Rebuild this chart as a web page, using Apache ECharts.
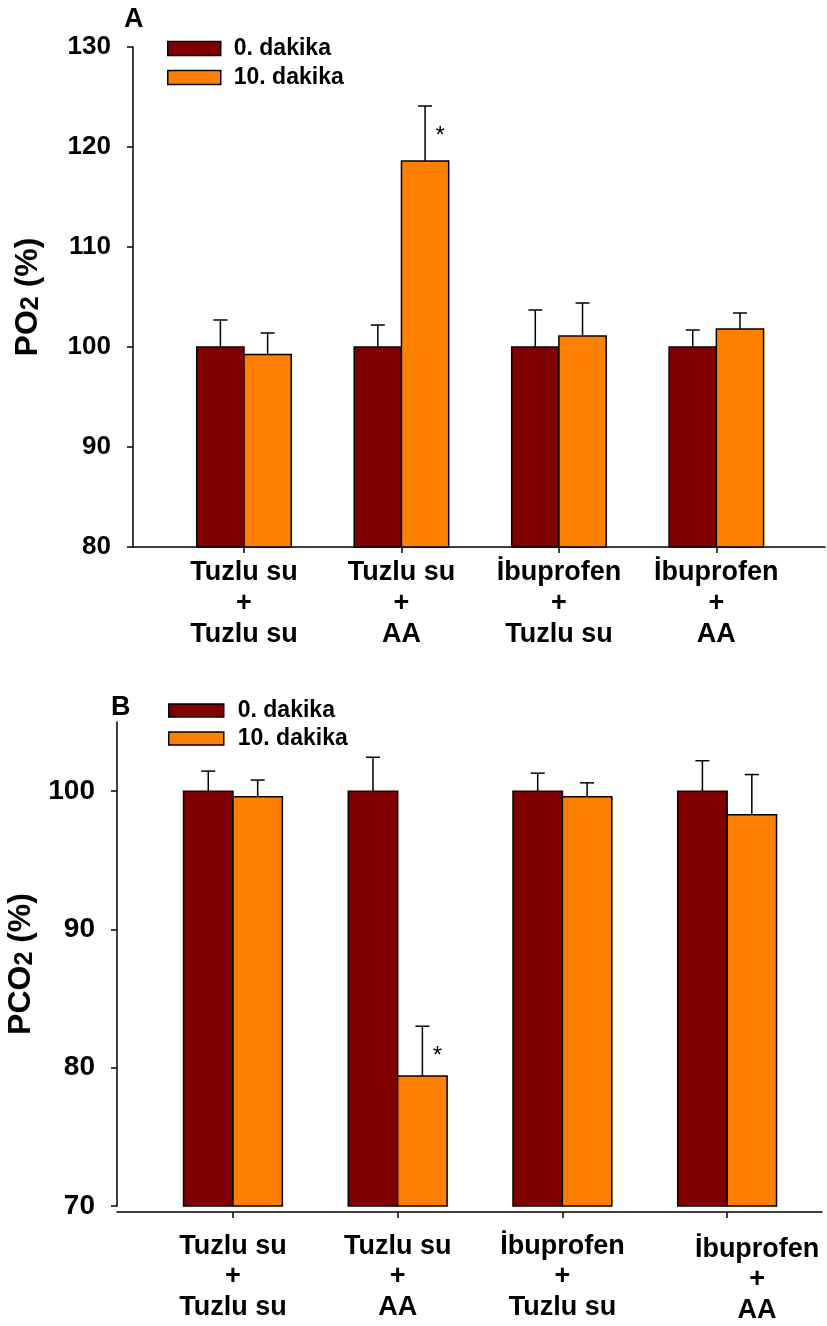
<!DOCTYPE html>
<html>
<head>
<meta charset="utf-8">
<script src="https://cdn.jsdelivr.net/npm/echarts@6/dist/echarts.min.js"></script>
<style>html,body{margin:0;padding:0;background:#fff}#c{width:827px;height:1326px}</style>
</head>
<body>
<div id="c"></div>
<script>
const categories = ['Tuzlu su\n+\nTuzlu su', 'Tuzlu su\n+\nAA', 'İbuprofen\n+\nTuzlu su', 'İbuprofen\n+\nAA'];
const seriesNames = ['0. dakika', '10. dakika'];
// Panel A: PO2 (%)
const po2_min0 = [100, 100, 100, 100];
const po2_min0_err = [2.7, 2.2, 3.7, 1.7];
const po2_min10 = [99.25, 118.6, 101.1, 101.8];
const po2_min10_err = [2.15, 5.5, 3.3, 1.6];
const po2_sig = ['', '*', '', ''];
const po2_ticks = [80, 90, 100, 110, 120, 130];
// Panel B: PCO2 (%)
const pco2_min0 = [100, 100, 100, 100];
const pco2_min0_err = [1.45, 2.45, 1.3, 2.2];
const pco2_min10 = [99.6, 79.4, 99.6, 98.3];
const pco2_min10_err = [1.2, 3.6, 1.0, 2.9];
const pco2_sig = ['', '*', '', ''];
const pco2_ticks = [70, 80, 90, 100];

const FONT = "'Liberation Sans', Arial, sans-serif";
const DARK = '#800000', ORANGE = '#FF8000';
const catPos = categories.map((c, i) => i + 1);

function build(vals, errs) { return vals.map((v, i) => [i + 1, v, errs[i]]); }

function makeRender(offset, yMin, sig) {
  return function (params, api) {
    const x = api.value(0), v = api.value(1), e = api.value(2);
    const p0 = api.coord([x + offset, yMin]);
    const p1 = api.coord([x + offset + 0.3, v]);
    const cx = api.coord([x + offset + 0.15, v])[0];
    const yt = api.coord([x, v + e])[1];
    const children = [
      { type: 'rect', shape: { x: p0[0], y: p1[1], width: p1[0] - p0[0], height: p0[1] - p1[1] },
        style: { fill: api.visual('color'), stroke: '#000', lineWidth: 1.5 } },
      { type: 'line', shape: { x1: cx, y1: p1[1], x2: cx, y2: yt }, style: { stroke: '#000', lineWidth: 1.5 } },
      { type: 'line', shape: { x1: cx - 7, y1: yt, x2: cx + 7, y2: yt }, style: { stroke: '#000', lineWidth: 1.5 } }
    ];
    const s = sig[params.dataIndex];
    if (s) {
      children.push({ type: 'text', style: { text: s, x: cx + 15, y: yt + 30, fill: '#000', font: '24px ' + FONT, align: 'center', verticalAlign: 'middle' } });
    }
    return { type: 'group', children };
  };
}

function catLabel(v) { const i = Math.round(v) - 1; return categories[i] || ''; }

const option = {
  animation: false,
  backgroundColor: '#fff',
  textStyle: { fontFamily: FONT },
  title: [
    { text: 'A', left: 119, top: 1, textStyle: { fontSize: 27, fontWeight: 'bold', color: '#000', fontFamily: FONT } },
    { text: 'B', left: 106, top: 689, textStyle: { fontSize: 27, fontWeight: 'bold', color: '#000', fontFamily: FONT } }
  ],
  legend: [
    { data: seriesNames, orient: 'vertical', left: 167, top: 37, itemWidth: 53, itemHeight: 14, itemGap: 6, padding: 0,
      icon: 'rect', itemStyle: { borderColor: '#000', borderWidth: 1.5 },
      textStyle: { fontSize: 23, fontWeight: 'bold', color: '#000', fontFamily: FONT, padding: [0, 0, 0, 8] } },
    { data: seriesNames, orient: 'vertical', left: 168, top: 699, itemWidth: 55, itemHeight: 13, itemGap: 5, padding: 0,
      icon: 'rect', itemStyle: { borderColor: '#000', borderWidth: 1.5 },
      textStyle: { fontSize: 23, fontWeight: 'bold', color: '#000', fontFamily: FONT, padding: [0, 0, 0, 9] } }
  ],
  grid: [
    { left: 133, right: 2, top: 47, height: 500, outerBoundsMode: 'none', containLabel: false },
    { left: 117, right: 5, top: 722, height: 484, outerBoundsMode: 'none', containLabel: false }
  ],
  xAxis: [
    { type: 'value', gridIndex: 0, min: 0.295, max: 4.69,
      axisLine: { show: true, lineStyle: { color: '#000', width: 1.5 } },
      axisTick: { show: true, length: 6, customValues: catPos, lineStyle: { color: '#000', width: 1.5 } },
      splitLine: { show: false },
      axisLabel: { customValues: catPos, formatter: catLabel, margin: 10, fontSize: 27, fontWeight: 'bold', color: '#000', lineHeight: 31, fontFamily: FONT } },
    { type: 'value', gridIndex: 1, min: 0.296, max: 4.576, offset: 6,
      axisLine: { show: true, onZero: false, lineStyle: { color: '#000', width: 1.5 } },
      axisTick: { show: true, length: 6, customValues: catPos, lineStyle: { color: '#000', width: 1.5 } },
      splitLine: { show: false },
      axisLabel: { customValues: catPos, margin: 19, color: '#000',
        formatter: function (v) { const i = Math.round(v) - 1; const t = categories[i] || ''; return i === 3 ? '{d|' + t.split('\n').join('}\n{d|') + '}' : '{n|' + t.split('\n').join('}\n{n|') + '}'; },
        rich: {
          n: { fontSize: 27, fontWeight: 'bold', color: '#000', lineHeight: 30.5, fontFamily: FONT },
          d: { fontSize: 27, fontWeight: 'bold', color: '#000', lineHeight: 30.5, fontFamily: FONT, padding: [6, 0, 0, 60] }
        } } }
  ],
  yAxis: [
    { type: 'value', gridIndex: 0, min: 80, max: 130, interval: 10,
      name: '{m|PO}{s|2}{m| (%)}', nameLocation: 'middle', nameGap: 89, nameRotate: 90,
      nameTextStyle: { rich: { m: { fontSize: 32, fontWeight: 'bold', color: '#000', fontFamily: FONT }, s: { fontSize: 25, fontWeight: 'bold', color: '#000', fontFamily: FONT, verticalAlign: 'bottom' } } },
      axisLine: { show: true, lineStyle: { color: '#000', width: 1.5 } },
      axisTick: { show: true, length: 6, customValues: po2_ticks, lineStyle: { color: '#000', width: 1.5 } },
      splitLine: { show: false },
      axisLabel: { customValues: po2_ticks, margin: 22, fontSize: 26, fontWeight: 'bold', color: '#000', fontFamily: FONT } },
    { type: 'value', gridIndex: 1, min: 70, max: 105, interval: 10,
      name: '{m|PCO}{s|2}{m| (%)}', nameLocation: 'middle', nameGap: 73, nameRotate: 90,
      nameTextStyle: { rich: { m: { fontSize: 32, fontWeight: 'bold', color: '#000', fontFamily: FONT }, s: { fontSize: 25, fontWeight: 'bold', color: '#000', fontFamily: FONT, verticalAlign: 'bottom' } } },
      axisLine: { show: true, onZero: false, lineStyle: { color: '#000', width: 1.5 } },
      axisTick: { show: true, length: 6, customValues: pco2_ticks, lineStyle: { color: '#000', width: 1.5 } },
      splitLine: { show: false },
      axisLabel: { customValues: pco2_ticks, margin: 22, fontSize: 28, fontWeight: 'bold', color: '#000', fontFamily: FONT } }
  ],
  series: [
    { name: seriesNames[0], type: 'custom', xAxisIndex: 0, yAxisIndex: 0, itemStyle: { color: DARK, borderColor: '#000', borderWidth: 1.5 },
      renderItem: makeRender(-0.3, 80, ['', '', '', '']), encode: { x: 0, y: 1 }, data: build(po2_min0, po2_min0_err) },
    { name: seriesNames[1], type: 'custom', xAxisIndex: 0, yAxisIndex: 0, itemStyle: { color: ORANGE, borderColor: '#000', borderWidth: 1.5 },
      renderItem: makeRender(0, 80, po2_sig), encode: { x: 0, y: 1 }, data: build(po2_min10, po2_min10_err) },
    { name: seriesNames[0], type: 'custom', xAxisIndex: 1, yAxisIndex: 1, itemStyle: { color: DARK, borderColor: '#000', borderWidth: 1.5 },
      renderItem: makeRender(-0.3, 70, ['', '', '', '']), encode: { x: 0, y: 1 }, data: build(pco2_min0, pco2_min0_err) },
    { name: seriesNames[1], type: 'custom', xAxisIndex: 1, yAxisIndex: 1, itemStyle: { color: ORANGE, borderColor: '#000', borderWidth: 1.5 },
      renderItem: makeRender(0, 70, pco2_sig), encode: { x: 0, y: 1 }, data: build(pco2_min10, pco2_min10_err) }
  ]
};
const chart = echarts.init(document.getElementById('c'), null, { renderer: 'canvas' });
chart.setOption(option);
</script>
</body>
</html>
